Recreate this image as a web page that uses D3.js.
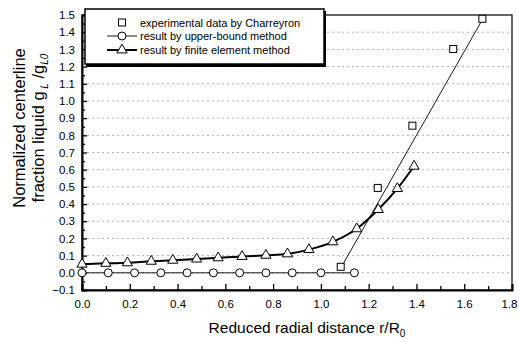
<!DOCTYPE html>
<html>
<head>
<meta charset="utf-8">
<script src="https://cdn.jsdelivr.net/npm/d3@7"></script>
<style>
  body { margin: 0; background: #fff; }
  svg { display: block; font-family: "Liberation Sans", Arial, Helvetica, sans-serif; }
</style>
</head>
<body>
<svg id="chart" width="519" height="343"></svg>
<script>
// experimental data (squares)
const expX = [1.083, 1.238, 1.383, 1.554, 1.676];
const expY = [0.035, 0.494, 0.856, 1.302, 1.478];
// straight line through experimental data
const fitX = [1.08, 1.685];
const fitY = [0.02, 1.495];
// upper-bound method (circles)
const ubX = [0.0, 0.11, 0.22, 0.33, 0.44, 0.55, 0.66, 0.77, 0.88, 1.0, 1.14];
const ubY = [0.0, 0.0, 0.0, 0.0, 0.0, 0.0, 0.0, 0.0, 0.0, 0.0, 0.0];
// finite element method (triangles)
const feX = [0.0, 0.1, 0.19, 0.29, 0.38, 0.48, 0.57, 0.67, 0.77, 0.86, 0.95, 1.05, 1.15, 1.24, 1.32, 1.39];
const feY = [0.05, 0.055, 0.058, 0.067, 0.073, 0.08, 0.087, 0.095, 0.102, 0.11, 0.135, 0.18, 0.256, 0.368, 0.49, 0.62];

const xTicks = [0.0, 0.2, 0.4, 0.6, 0.8, 1.0, 1.2, 1.4, 1.6, 1.8];
const yTicks = [-0.1, 0.0, 0.1, 0.2, 0.3, 0.4, 0.5, 0.6, 0.7, 0.8, 0.9, 1.0, 1.1, 1.2, 1.3, 1.4, 1.5];
const legendLabels = ['experimental data by Charreyron', 'result by upper-bound method', 'result by finite element method'];

const svg = d3.select('#chart');
const plotL = 82, plotR = 512, plotT = 15, plotB = 290;

const x = d3.scaleLinear().domain([0, 1.8]).range([plotL, plotR]);
const y = d3.scaleLinear().domain([-0.1, 1.5]).range([plotB, plotT]);

// dotted horizontal grid
svg.append('g')
  .selectAll('line')
  .data(yTicks.slice(1, -1))
  .join('line')
  .attr('x1', plotL).attr('x2', plotR)
  .attr('y1', d => y(d)).attr('y2', d => y(d))
  .attr('stroke', '#999')
  .attr('stroke-width', 0.8)
  .attr('stroke-dasharray', '2,3');

// plot frame
svg.append('rect')
  .attr('x', plotL).attr('y', plotT)
  .attr('width', plotR - plotL).attr('height', plotB - plotT)
  .attr('fill', 'none').attr('stroke', '#000').attr('stroke-width', 1.2);

// axes with inward ticks
const xAxis = d3.axisBottom(x).tickValues(xTicks).tickSize(-6).tickPadding(10)
  .tickFormat(d3.format('.1f'));
const gx = svg.append('g').attr('transform', `translate(0,${plotB})`).call(xAxis);
gx.select('.domain').attr('stroke-width', 2);

const xMinor = d3.axisBottom(x).tickValues(d3.range(0.1, 1.8, 0.2)).tickSize(-4).tickFormat('');
svg.append('g').attr('transform', `translate(0,${plotB})`).call(xMinor).select('.domain').remove();

const yAxis = d3.axisLeft(y).tickValues(yTicks).tickSize(-5).tickPadding(7)
  .tickFormat(d3.format('.1f'));
const gy = svg.append('g').attr('transform', `translate(${plotL},0)`).call(yAxis);
gy.select('.domain').attr('stroke-width', 2);

const yMinor = d3.axisLeft(y).tickValues(d3.range(-0.05, 1.5, 0.1)).tickSize(-3).tickFormat('');
svg.append('g').attr('transform', `translate(${plotL},0)`).call(yMinor).select('.domain').remove();

svg.selectAll('.tick text').attr('font-size', 11.5).attr('fill', '#000')
  .attr('font-family', '"Liberation Sans", Arial, sans-serif');
svg.selectAll('.tick line').attr('stroke-width', 1.3);
// keep the last x label inside the picture
gx.selectAll('.tick text').filter(d => d === 1.8).attr('text-anchor', 'end').attr('dx', 5);

// fit line through experimental data
const line = d3.line().x(d => x(d[0])).y(d => y(d[1]));
svg.append('path')
  .attr('d', line(d3.zip(fitX, fitY)))
  .attr('fill', 'none').attr('stroke', '#000').attr('stroke-width', 0.9);

// upper-bound line
svg.append('path')
  .attr('d', line(d3.zip(ubX, ubY)))
  .attr('fill', 'none').attr('stroke', '#000').attr('stroke-width', 0.9);

// finite element line
svg.append('path')
  .attr('d', d3.line().curve(d3.curveMonotoneX).x(d => x(d[0])).y(d => y(d[1]))(d3.zip(feX, feY)))
  .attr('fill', 'none').attr('stroke', '#000').attr('stroke-width', 2);

// markers
const tri = d3.symbol().type(d3.symbolTriangle).size(45);

svg.append('g').selectAll('path')
  .data(d3.zip(feX, feY))
  .join('path')
  .attr('d', tri)
  .attr('transform', d => `translate(${x(d[0])},${y(d[1])})`)
  .attr('fill', '#fff').attr('stroke', '#000').attr('stroke-width', 1);

svg.append('g').selectAll('circle')
  .data(d3.zip(ubX, ubY))
  .join('circle')
  .attr('cx', d => x(d[0])).attr('cy', d => y(d[1])).attr('r', 4)
  .attr('fill', '#fff').attr('stroke', '#000').attr('stroke-width', 1);

svg.append('g').selectAll('rect')
  .data(d3.zip(expX, expY))
  .join('rect')
  .attr('x', d => x(d[0]) - 3.5).attr('y', d => y(d[1]) - 3.5)
  .attr('width', 7).attr('height', 7)
  .attr('fill', '#fff').attr('stroke', '#000').attr('stroke-width', 1);

// legend
const lg = svg.append('g');
lg.append('rect').attr('x', 86).attr('y', 11).attr('width', 240).attr('height', 56)
  .attr('fill', '#000');
lg.append('rect').attr('x', 85).attr('y', 9).attr('width', 239).attr('height', 55)
  .attr('fill', '#fff').attr('stroke', '#000').attr('stroke-width', 1.5);

const rowY = [22.5, 36, 50];
legendLabels.forEach((t, i) => {
  lg.append('text')
    .attr('x', 140).attr('y', rowY[i] + 4)
    .attr('font-size', 11)
    .text(t);
});
lg.append('rect').attr('x', 118.5).attr('y', rowY[0] - 3.5).attr('width', 7).attr('height', 7)
  .attr('fill', '#fff').attr('stroke', '#000');
lg.append('line').attr('x1', 107).attr('x2', 137).attr('y1', rowY[1]).attr('y2', rowY[1])
  .attr('stroke', '#000').attr('stroke-width', 0.9);
lg.append('circle').attr('cx', 122).attr('cy', rowY[1]).attr('r', 4)
  .attr('fill', '#fff').attr('stroke', '#000');
lg.append('line').attr('x1', 107).attr('x2', 137).attr('y1', rowY[2]).attr('y2', rowY[2])
  .attr('stroke', '#000').attr('stroke-width', 2);
lg.append('path').attr('d', tri).attr('transform', `translate(122,${rowY[2]})`)
  .attr('fill', '#fff').attr('stroke', '#000');

// axis titles
svg.append('text')
  .attr('x', 307).attr('y', 333)
  .attr('text-anchor', 'middle').attr('font-size', 15.5)
  .text('Reduced radial distance r/R')
  .append('tspan').attr('font-size', 10).attr('dy', 4).text('0');

const yl = svg.append('g').attr('transform', 'translate(0,128) rotate(-90)');
yl.append('text').attr('x', 0).attr('y', 25)
  .attr('text-anchor', 'middle').attr('font-size', 16.5)
  .text('Normalized centerline');
const yl2 = yl.append('text').attr('x', 0).attr('y', 44)
  .attr('text-anchor', 'middle').attr('font-size', 16.5);
yl2.append('tspan').text('fraction liquid g');
yl2.append('tspan').attr('font-size', 10).attr('font-style', 'italic').attr('dy', 4).text(' L');
yl2.append('tspan').attr('dy', -4).text(' /g');
yl2.append('tspan').attr('font-size', 10).attr('font-style', 'italic').attr('dy', 4).text('L0');
</script>
</body>
</html>
